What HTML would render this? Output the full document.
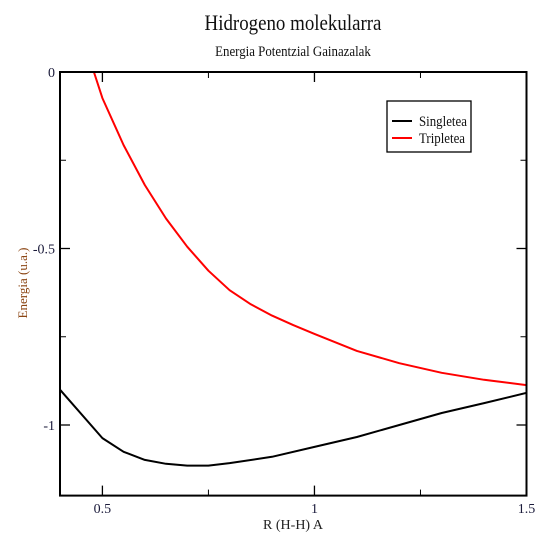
<!DOCTYPE html>
<html><head><meta charset="utf-8"><style>
body{margin:0;background:#fff}
svg{display:block;font-family:"Liberation Serif",serif}
</style></head><body>
<svg width="544" height="542" viewBox="0 0 544 542">
<defs><clipPath id="pc"><rect x="60" y="72" width="466.5" height="423.6"/></clipPath></defs>
<text x="293" y="30" text-anchor="middle" font-size="22" fill="#111" transform="translate(293,0) scale(0.86,1) translate(-293,0)">Hidrogeno molekularra</text>
<text x="293" y="56" text-anchor="middle" font-size="15" fill="#111" transform="translate(293,0) scale(0.86,1) translate(-293,0)">Energia Potentzial Gainazalak</text>
<g id="axes"></g>
<g id="series" clip-path="url(#pc)"></g>
<rect x="60" y="72" width="466.5" height="423.6" fill="none" stroke="#000" stroke-width="2"/>
<text x="293" y="529" text-anchor="middle" font-size="14" fill="#222">R (H-H) A</text>
<text transform="translate(27,283) rotate(-90)" text-anchor="middle" font-size="13" fill="#8b4513">Energia (u.a.)</text>
<g>
<rect x="387" y="101" width="84" height="51" fill="#fff" stroke="#000" stroke-width="1.3"/>
<line x1="392" y1="121" x2="412" y2="121" stroke="#000" stroke-width="2"/>
<text x="419" y="126" font-size="15" fill="#111" transform="translate(419,0) scale(0.86,1) translate(-419,0)">Singletea</text>
<line x1="392" y1="138" x2="412" y2="138" stroke="#f00" stroke-width="2"/>
<text x="419" y="143" font-size="15" fill="#111" transform="translate(419,0) scale(0.86,1) translate(-419,0)">Tripletea</text>
</g>
</svg>
<script>
const xValues=[0.4,0.5,0.55,0.6,0.65,0.7,0.75,0.8,0.9,1.0,1.1,1.2,1.3,1.4,1.5];
const singlet=[-0.90,-1.037,-1.076,-1.099,-1.110,-1.115,-1.115,-1.108,-1.090,-1.062,-1.034,-1.0,-0.966,-0.938,-0.909];
const tripletX=[0.45,0.48,0.5,0.55,0.6,0.65,0.7,0.75,0.8,0.85,0.9,0.95,1.0,1.1,1.2,1.3,1.4,1.5];
const triplet=[0.12,0.0,-0.074,-0.207,-0.32,-0.415,-0.495,-0.563,-0.618,-0.658,-0.69,-0.717,-0.742,-0.79,-0.825,-0.852,-0.872,-0.887];
const xTicks=[0.5,1,1.5];const xTickLabels=["0.5","1","1.5"];const xMinor=[0.75,1.25];
const yTicks=[0,-0.5,-1];const yTickLabels=["0","-0.5","-1"];const yMinor=[-0.25,-0.75];
const X0=60,X1=526.5,Y0=72,Y1=495.6;
const sx=v=>X0+(v-0.4)/1.1*(X1-X0);
const sy=v=>Y0+(0-v)/1.2*(Y1-Y0);
const NS="http://www.w3.org/2000/svg";
const axes=document.getElementById('axes'),ser=document.getElementById('series');
function mk(t,a,p){const e=document.createElementNS(NS,t);for(const k in a)e.setAttribute(k,a[k]);p.appendChild(e);return e;}
xTicks.forEach((v,i)=>{const x=sx(v);
 let l=mk('line',{x1:x,y1:Y1,x2:x,y2:Y1-10,stroke:'#000','stroke-width':1.3},axes);
 
 
 let l2=mk('line',{x1:x,y1:Y0,x2:x,y2:Y0+10,stroke:'#000','stroke-width':1.3},axes);
 
 
 let t=mk('text',{x:x,y:513,'text-anchor':'middle','font-size':14,fill:'#1a1a3a'},axes);t.textContent=xTickLabels[i];
 
 });
xMinor.forEach(v=>{const x=sx(v);
 let l=mk('line',{x1:x,y1:Y1,x2:x,y2:Y1-6,stroke:'#000','stroke-width':1},axes);
 
 
 let l2=mk('line',{x1:x,y1:Y0,x2:x,y2:Y0+6,stroke:'#000','stroke-width':1},axes);
 
 });
yTicks.forEach((v,i)=>{const y=sy(v);
 let l=mk('line',{x1:X0,y1:y,x2:X0+10,y2:y,stroke:'#000','stroke-width':1.3},axes);
 
 
 let l2=mk('line',{x1:X1,y1:y,x2:X1-10,y2:y,stroke:'#000','stroke-width':1.3},axes);
 
 
 let t=mk('text',{x:55,y:y+5,'text-anchor':'end','font-size':14,fill:'#1a1a3a'},axes);t.textContent=yTickLabels[i];
 
 });
yMinor.forEach(v=>{const y=sy(v);
 let l=mk('line',{x1:X0,y1:y,x2:X0+6,y2:y,stroke:'#000','stroke-width':1},axes);
 
 
 let l2=mk('line',{x1:X1,y1:y,x2:X1-6,y2:y,stroke:'#000','stroke-width':1},axes);
 
 });
function path(xs,ys,c,name){
 const d=xs.map((x,i)=>(i?'L':'M')+sx(x).toFixed(1)+','+sy(ys[i]).toFixed(1)).join('');
 const p=mk('path',{d:d,fill:'none',stroke:c,'stroke-width':2,'stroke-linejoin':'round'},ser);
 
 }
path(xValues,singlet,'#000','singletea-line');
path(tripletX,triplet,'#f00','tripletea-line');
</script>
</body></html>
